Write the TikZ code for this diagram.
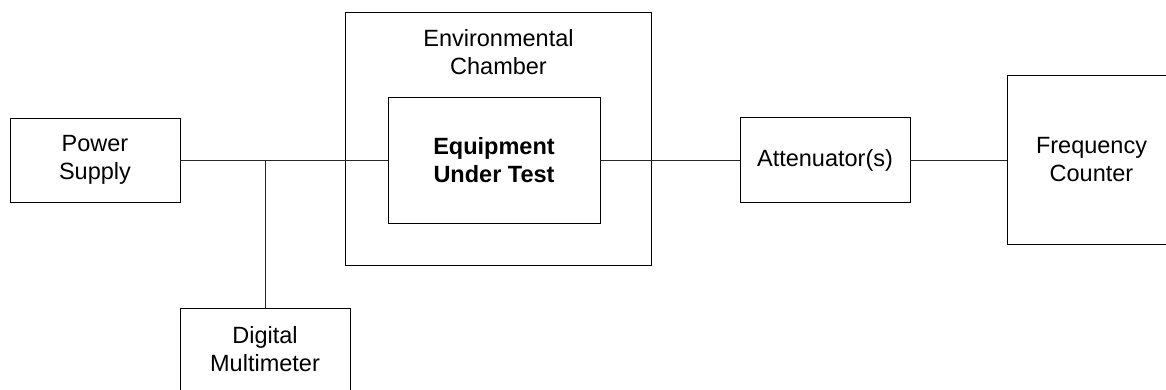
\documentclass[tikz,border=0pt]{standalone}
\usepackage{fontspec}
\setmainfont{Liberation Sans}
\begin{document}
\begin{tikzpicture}[x=1pt,y=-1pt,
  box/.style={draw=black,line width=1pt,inner sep=0pt,outer sep=0pt,align=center,
    font=\fontsize{23.5}{28}\selectfont},
  wire/.style={draw=black!85,line width=1pt}]
\useasboundingbox (0,0) rectangle (1166,389);
\clip (0,0) rectangle (1166,389);
\node[box,minimum width=306.5pt,minimum height=253pt] (ch) at (498.5,138.5) {};
\node[align=center,inner sep=0pt,font=\fontsize{23.5}{28}\selectfont] (chl) at (498.5,52.5) {Environmental\\Chamber};
\node[box,minimum width=212pt,minimum height=126pt,font=\bfseries\fontsize{23.5}{28}\selectfont] (eut) at (494,160) {Equipment\\Under Test};
\node[box,minimum width=170pt,minimum height=84pt] (ps) at (95,160) {Power\\Supply};
\node[box,minimum width=170pt,minimum height=83pt] (dmm) at (265,349.5) {Digital\\Multimeter};
\node[box,minimum width=170pt,minimum height=85pt] (att) at (825,160) {Attenuator(s)};
\node[box,minimum width=169pt,minimum height=169pt] (fc) at (1091.5,160) {Frequency\\Counter};
\coordinate (j) at (dmm.north |- ps.east);
\draw[wire] (ps.east) -- (eut.west);
\draw[wire] (dmm.north) -- (j);
\draw[wire] (eut.east) -- (att.west);
\draw[wire] (att.east) -- (fc.west);
\end{tikzpicture}
\end{document}
